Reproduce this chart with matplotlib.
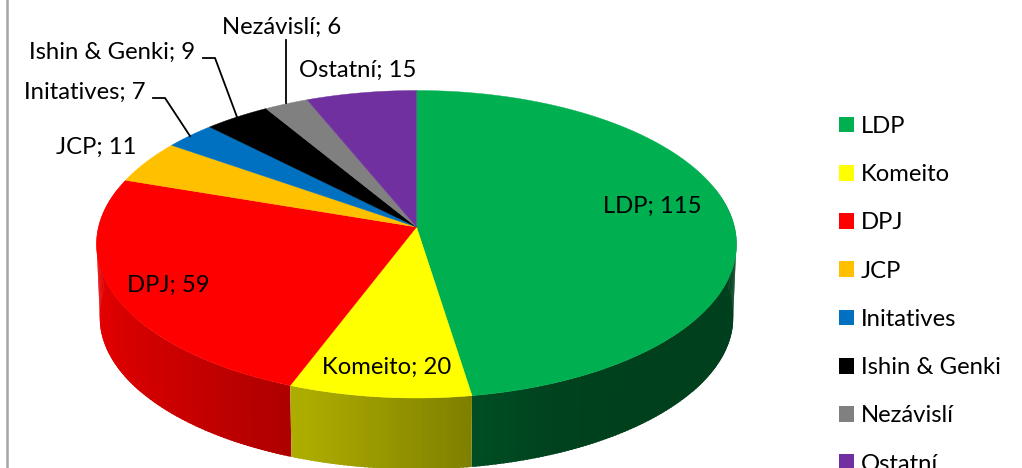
import numpy as np
import matplotlib
matplotlib.use("Agg")
import matplotlib.pyplot as plt
from matplotlib.patches import Patch

parties = ["LDP", "Komeito", "DPJ", "JCP", "Initatives", "Ishin & Genki", "Nezávislí", "Ostatní"]
seats = [115, 20, 59, 11, 7, 9, 6, 15]
colors = ["#00B050", "#FFFF00", "#FF0000", "#FFC000", "#0070C0", "#000000", "#808080", "#7030A0"]

plt.rcParams["font.family"] = ["Lato", "DejaVu Sans"]
FS = 17.2

fig = plt.figure(figsize=(10.22, 4.68), dpi=100)
ax = fig.add_axes([0, 0, 1, 1])
ax.set_xlim(0, 1022)
ax.set_ylim(468, 0)
ax.axis("off")

# projection of the tilted disc
CX, CY, RX, SY, P = 416.5, 227.0, 318.0, 151.8, 0.1122
DROP, BOTTOM_SCALE = 73.0, 0.99


def project(theta, radius=1.0, bottom=False):
    """theta: degrees clockwise from 12 o'clock."""
    t = np.radians(theta)
    x, y = radius * np.sin(t), radius * np.cos(t)
    w = 1 + P * y
    s = BOTTOM_SCALE if bottom else 1.0
    return CX + s * RX * x / w, CY + (DROP if bottom else 0) - s * SY * y / w


def darken(color, f):
    return tuple(c * f for c in matplotlib.colors.to_rgb(color))


def shade(x):
    return np.interp(x, [96, 120, 290, 310, 470, 473, 560, 737],
                     [0.90, 0.85, 0.68, 0.67, 0.50, 0.44, 0.37, 0.36])


edges = np.concatenate([[0], np.cumsum(seats)]) / np.sum(seats) * 360.0

# solid underlay where the wall turns away at both sides, so the thin strips leave no streaks
for color, lo, hi, xref in ((colors[0], 75.0, 125.0, 737), (colors[2], 235.0, 285.0, 105)):
    ts = np.linspace(lo, hi, 60)
    xt, yt = project(ts)
    xb, yb = project(ts[::-1], bottom=True)
    c = darken(color, float(shade(xref)))
    ax.fill(np.r_[xt, xb], np.r_[yt, yb], facecolor=c, edgecolor="none", lw=0, zorder=1.5)

# side wall in thin gradient strips, back strips first so the front ones stay clean
strips = []
for color, a, b in zip(colors, edges[:-1], edges[1:]):
    ts = np.linspace(a, b, max(int((b - a) * 1.5), 3))
    for t0, t1 in zip(ts[:-1], ts[1:]):
        mid = (t0 + t1) / 2
        if 100 < mid < 260:
            strips.append((np.cos(np.radians(mid)), color, max(t0 - 0.2, a), min(t1 + 0.2, b)))
strips.sort(key=lambda s: -s[0])
for _, color, t0, t1 in strips:
    x0, y0 = project(t0)
    x1, y1 = project(t1)
    x2, y2 = project(t1, bottom=True)
    x3, y3 = project(t0, bottom=True)
    c = darken(color, float(shade((x0 + x1) / 2)))
    ax.fill([x0, x1, x2, x3], [y0, y1, y2, y3], facecolor=c, edgecolor="none", lw=0, zorder=2)

# top face
for color, a, b in zip(colors, edges[:-1], edges[1:]):
    ts = np.linspace(a, b, max(int((b - a) * 2), 3))
    xs, ys = project(ts)
    ax.fill(np.r_[CX, xs], np.r_[CY, ys], facecolor=color, edgecolor=color, lw=0.3, zorder=3)

# data labels
label_pos = {
    "LDP": (652.5, 206), "Komeito": (387, 367), "DPJ": (168, 285), "JCP": (96, 147),
    "Initatives": (84.5, 92), "Ishin & Genki": (112, 52), "Nezávislí": (282, 27), "Ostatní": (358, 70),
}
for name, value in zip(parties, seats):
    px, py = label_pos[name]
    ax.text(px, py, f"{name}; {value}", fontsize=FS, color="black", ha="center", va="center", zorder=5)

# leader lines
leaders = [
    ([153, 165, 190], [98, 98, 136]),
    ([203, 215, 237], [58, 58, 117]),
    ([286, 286], [40, 103]),
]
for lx, ly in leaders:
    ax.plot(lx, ly, color="black", lw=1.3, solid_joinstyle="miter", zorder=5)

# chart frame (only left edge falls inside the picture)
ax.plot([6.5, 6.5], [0, 468], color="#A6A6A6", lw=1.8, zorder=1)

handles = [Patch(facecolor=c, edgecolor="none", label=n) for n, c in zip(parties, colors)]
ax.legend(handles=handles, loc="upper left", bbox_to_anchor=(839 / 1022, 1 - 116 / 468),
          frameon=False, fontsize=FS, handlelength=0.63, handleheight=0.63,
          handletextpad=0.29, labelspacing=1.14, borderpad=0, borderaxespad=0)

fig.savefig("out.png", dpi=100)
